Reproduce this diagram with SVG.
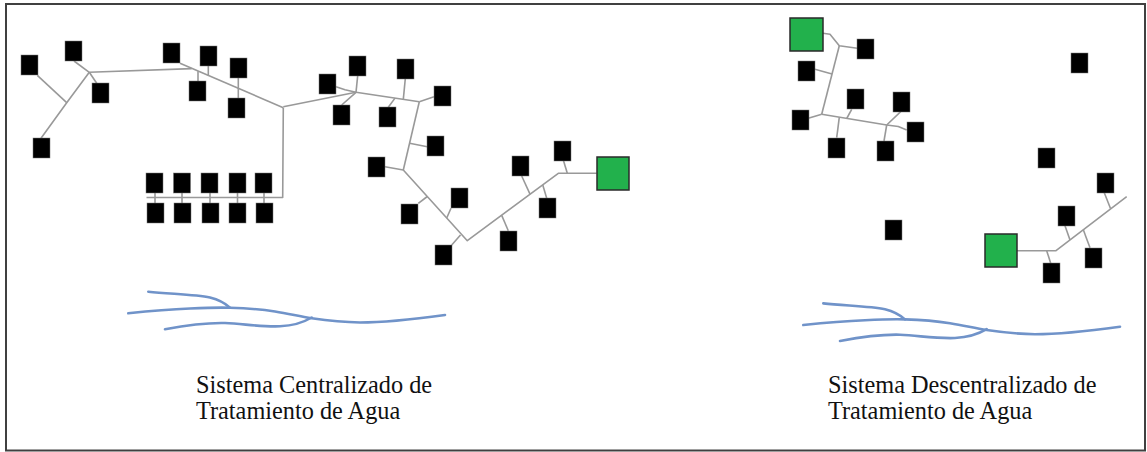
<svg xmlns="http://www.w3.org/2000/svg" width="1147" height="452" viewBox="0 0 1147 452">
<style>
.h{fill:#000;stroke:#777;stroke-width:0.5}
.g{fill:#22b14c;stroke:#2a2a2a;stroke-width:1.5}
.c{fill:none;stroke:#999;stroke-width:1.6;stroke-linejoin:round}
.r{fill:none;stroke:#7093c9;stroke-width:2.6;stroke-linecap:round}
.t{font-family:"Liberation Serif","Times New Roman",serif;font-size:24.3px;fill:#111}
</style>
<defs>
<rect id="sq" width="17" height="20" class="h"/>
<g id="river">
<path class="r" d="M128.3,313.3 C150,311 165,309.5 190,308.5 C205,307.8 218,307.3 230,307.7 C250,308.3 262,309.5 275,311.5 C290,314 300,316.5 311.7,318.3 C330,321 340,322.3 360,322.5 C385,322.5 405,320.5 445,315"/>
<path class="r" d="M148.3,291.7 C170,294 195,294.5 210,297.5 C220,300 226,304 230,307.7"/>
<path class="r" d="M165,329.3 C185,325.5 205,322.5 225,323 C245,324 260,327 280,326.3 C296,325.5 305,321.5 311.7,317.5"/>
</g>
</defs>
<rect x="0" y="0" width="1147" height="452" fill="#fff"/>
<rect x="6" y="4" width="1139" height="446.5" fill="none" stroke="#404040" stroke-width="2"/>

<g id="connectors">
<polyline class="c" points="41,138.3 66.7,102.7 89.3,72.3"/>
<line class="c" x1="37.3" y1="75.3" x2="66.7" y2="102.7"/>
<line class="c" x1="74" y1="61" x2="89.3" y2="72.3"/>
<line class="c" x1="89.3" y1="72.3" x2="96.7" y2="83.3"/>
<line class="c" x1="89.3" y1="72.3" x2="191.7" y2="68.6"/>
<line class="c" x1="180" y1="63.3" x2="283.3" y2="107.7"/>
<line class="c" x1="198" y1="71.3" x2="198" y2="81"/>
<line class="c" x1="208.3" y1="66" x2="208.3" y2="75.6"/>
<line class="c" x1="238.3" y1="78" x2="238.3" y2="98.3"/>
<polyline class="c" points="283.3,107.7 282.7,197.5 146.5,197.5"/>
<line class="c" x1="155" y1="192.5" x2="155" y2="203"/>
<line class="c" x1="182" y1="192.5" x2="182" y2="203"/>
<line class="c" x1="210" y1="192.5" x2="210" y2="203"/>
<line class="c" x1="237.5" y1="192.5" x2="237.5" y2="203"/>
<line class="c" x1="264" y1="192.5" x2="264" y2="203"/>
<line class="c" x1="283.3" y1="106.7" x2="356" y2="92.3"/>
<polyline class="c" points="336,86.7 345,89.8 356,92.3"/>
<line class="c" x1="357.7" y1="75.7" x2="356" y2="92.3"/>
<line class="c" x1="341.7" y1="105" x2="356" y2="92.3"/>
<line class="c" x1="356" y1="92.3" x2="419.3" y2="101.7"/>
<line class="c" x1="405.3" y1="78.7" x2="403.3" y2="99.3"/>
<line class="c" x1="388.3" y1="107.3" x2="395" y2="98.1"/>
<line class="c" x1="419.3" y1="101.7" x2="434" y2="96.7"/>
<line class="c" x1="419.3" y1="101.7" x2="403.3" y2="170"/>
<line class="c" x1="427.3" y1="146.7" x2="409.6" y2="143.3"/>
<line class="c" x1="385" y1="166.7" x2="403.3" y2="170"/>
<polyline class="c" points="403.3,170 467.3,240.7 558.3,173.3 596.7,173.3"/>
<line class="c" x1="418.3" y1="203.3" x2="427.3" y2="196.5"/>
<line class="c" x1="451" y1="208.3" x2="446.7" y2="218"/>
<line class="c" x1="451.7" y1="245" x2="460.5" y2="235"/>
<line class="c" x1="508.3" y1="230.7" x2="501.7" y2="215.4"/>
<line class="c" x1="521.7" y1="176" x2="530" y2="194.2"/>
<line class="c" x1="546.7" y1="198.3" x2="542.7" y2="184.8"/>
<line class="c" x1="563.3" y1="160" x2="567.3" y2="173.3"/>
<polyline class="c" points="823,33.3 830,34.3 839.3,45.7 857.3,48.3"/>
<line class="c" x1="839.3" y1="45.7" x2="821.7" y2="114.3"/>
<line class="c" x1="815" y1="69.3" x2="832" y2="74"/>
<line class="c" x1="808.3" y1="118.3" x2="821.7" y2="114.3"/>
<polyline class="c" points="821.7,114.3 886.7,125 898.3,126.5 906.7,130"/>
<line class="c" x1="851.7" y1="109.3" x2="846.7" y2="118.5"/>
<line class="c" x1="836.7" y1="137.7" x2="839.3" y2="117.3"/>
<line class="c" x1="900.7" y1="111.7" x2="886.7" y2="125"/>
<line class="c" x1="884" y1="141" x2="886.7" y2="125"/>
<polyline class="c" points="1017,250.7 1056,250.7 1126.7,196.7"/>
<line class="c" x1="1104.3" y1="192.7" x2="1110.5" y2="208.5"/>
<line class="c" x1="1065" y1="225.7" x2="1070" y2="240"/>
<line class="c" x1="1090" y1="247.7" x2="1083.3" y2="229.8"/>
<line class="c" x1="1050.7" y1="263.3" x2="1046.7" y2="250.7"/>
</g>

<g id="centralized-houses">
<g id="h-a"><use href="#sq" x="21" y="55"/></g>
<g id="h-b"><use href="#sq" x="65" y="41"/></g>
<g id="h-c"><use href="#sq" x="92" y="83"/></g>
<g id="h-d"><use href="#sq" x="33" y="138"/></g>
<g id="h-e"><use href="#sq" x="163" y="43"/></g>
<g id="h-f"><use href="#sq" x="200" y="46"/></g>
<g id="h-g"><use href="#sq" x="189" y="81"/></g>
<g id="h-h"><use href="#sq" x="230" y="58"/></g>
<g id="h-i"><use href="#sq" x="228" y="98"/></g>
<g id="row-top-1"><use href="#sq" x="146" y="173"/></g>
<g id="row-top-2"><use href="#sq" x="173.5" y="173"/></g>
<g id="row-top-3"><use href="#sq" x="201" y="173"/></g>
<g id="row-top-4"><use href="#sq" x="229" y="173"/></g>
<g id="row-top-5"><use href="#sq" x="255" y="173"/></g>
<g id="row-bot-1"><use href="#sq" x="147" y="203"/></g>
<g id="row-bot-2"><use href="#sq" x="174" y="203"/></g>
<g id="row-bot-3"><use href="#sq" x="202" y="203"/></g>
<g id="row-bot-4"><use href="#sq" x="229" y="203"/></g>
<g id="row-bot-5"><use href="#sq" x="256" y="203"/></g>
<g id="h-j"><use href="#sq" x="319" y="74"/></g>
<g id="h-k"><use href="#sq" x="349" y="56"/></g>
<g id="h-l"><use href="#sq" x="333" y="105"/></g>
<g id="h-m"><use href="#sq" x="397" y="59"/></g>
<g id="h-n"><use href="#sq" x="379" y="107"/></g>
<g id="h-o"><use href="#sq" x="434" y="86"/></g>
<g id="h-p"><use href="#sq" x="427" y="136"/></g>
<g id="h-q"><use href="#sq" x="368" y="157"/></g>
<g id="h-t"><use href="#sq" x="401" y="204"/></g>
<g id="h-u"><use href="#sq" x="451" y="188"/></g>
<g id="h-v"><use href="#sq" x="435" y="245"/></g>
<g id="h-w"><use href="#sq" x="512" y="156"/></g>
<g id="h-x"><use href="#sq" x="539" y="198"/></g>
<g id="h-y"><use href="#sq" x="500" y="231"/></g>
<g id="h-s"><use href="#sq" x="554" y="141"/></g>
</g>
<g id="plant-central"><rect class="g" x="597" y="157" width="32" height="33"/></g>

<g id="decentralized-houses">
<g id="d-z"><use href="#sq" x="857" y="39"/></g>
<g id="d-aa"><use href="#sq" x="798" y="61"/></g>
<g id="d-ab"><use href="#sq" x="792" y="110"/></g>
<g id="d-ac"><use href="#sq" x="847" y="89"/></g>
<g id="d-ad"><use href="#sq" x="828" y="138"/></g>
<g id="d-ae"><use href="#sq" x="893" y="92"/></g>
<g id="d-af"><use href="#sq" x="907" y="122"/></g>
<g id="d-ag"><use href="#sq" x="877" y="141"/></g>
<g id="d-iso1"><use href="#sq" x="1071" y="53"/></g>
<g id="d-iso2"><use href="#sq" x="1038" y="148"/></g>
<g id="d-iso3"><use href="#sq" x="885" y="220"/></g>
<g id="d-ah"><use href="#sq" x="1097" y="173"/></g>
<g id="d-ai"><use href="#sq" x="1058" y="206"/></g>
<g id="d-aj"><use href="#sq" x="1085" y="248"/></g>
<g id="d-ak"><use href="#sq" x="1043" y="263"/></g>
</g>
<g id="plant-decentral-1"><rect class="g" x="790" y="18" width="33" height="33"/></g>
<g id="plant-decentral-2"><rect class="g" x="985" y="234" width="32" height="33"/></g>

<g id="river-left"><use href="#river"/></g>
<g id="river-right"><use href="#river" transform="translate(675,11.7)"/></g>

<g id="label-left">
<text class="t" x="196" y="393">Sistema Centralizado de</text>
<text class="t" x="196" y="419">Tratamiento de Agua</text>
</g>
<g id="label-right">
<text class="t" x="828" y="393">Sistema Descentralizado de</text>
<text class="t" x="828" y="419">Tratamiento de Agua</text>
</g>
</svg>
